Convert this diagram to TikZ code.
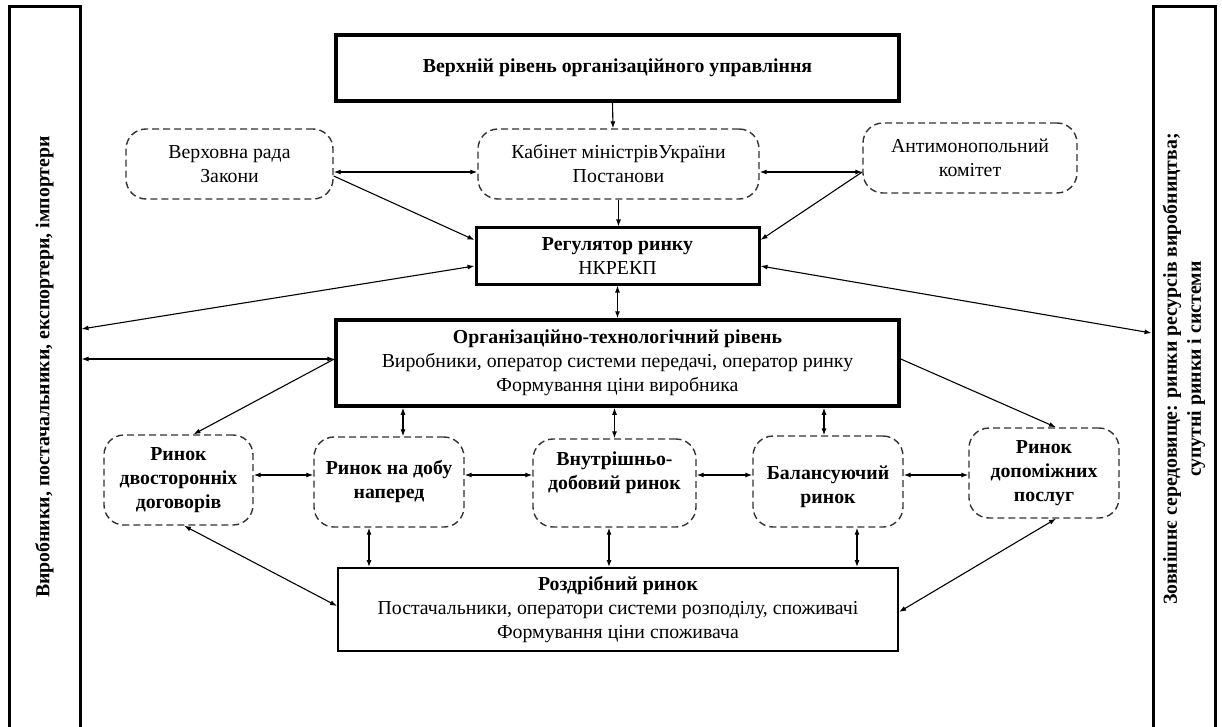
\documentclass[tikz,border=0pt]{standalone}
\usepackage{fontspec}
\setmainfont{Liberation Serif}
\usetikzlibrary{arrows.meta,calc}

\newcommand{\boxfont}{\fontsize{19.8}{24}\selectfont}
\tikzset{
  every node/.style={font=\boxfont},
  solidbox/.style={draw, rectangle, align=center, inner sep=0pt},
  heavybox/.style={solidbox, line width=3.5pt},
  midbox/.style={solidbox, line width=2pt},
  dashbox/.style={draw=black!80, rectangle, rounded corners=20pt, align=center,
    inner sep=0pt, line width=1.4pt, dash pattern=on 7pt off 4pt},
  marketbox/.style={dashbox, font=\boxfont\bfseries},
  barbox/.style={draw, rectangle, line width=3pt, inner sep=0pt},
  bartext/.style={rotate=90, align=center, font=\boxfont\bfseries},
  link/.style={line width=1.1pt, -{Latex[length=7pt,width=5pt]}},
  dlink/.style={line width=1.1pt, {Latex[length=7pt,width=5pt]}-{Latex[length=7pt,width=5pt]}},
}

\begin{document}
\begin{tikzpicture}[x=1pt, y=-1pt]
\useasboundingbox (0,0) rectangle (1222,727);
\clip (0,0) rectangle (1222,727);

% side bars
\node[barbox, minimum width=71, minimum height=740] (lbar) at (44.5,377) {};
\node[bartext] (ltext) at (44.5,367)
  {Виробники, постачальники, експортери, імпортери};
\node[barbox, minimum width=62, minimum height=740] (rbar) at (1184,377) {};
\node[bartext] (rtext) at (1184,369)
  {Зовнішнє середовище: ринки ресурсів виробництва;\\супутні ринки і системи};

% upper level
\node[heavybox, minimum width=563, minimum height=66] (top) at (617.5,68)
  {\bfseries Верхній рівень організаційного управління};
\node[dashbox, minimum width=207, minimum height=70] (vr) at (229.5,164)
  {Верховна рада\\Закони};
\node[dashbox, minimum width=281, minimum height=70] (kab) at (618.5,164)
  {Кабінет міністрівУкраїни\\Постанови};
\node[dashbox, minimum width=214, minimum height=70] (anti) at (970,158)
  {Антимонопольний\\комітет};
\node[heavybox, line width=3pt, minimum width=283, minimum height=56] (reg) at (617.5,256)
  {\bfseries Регулятор ринку\\НКРЕКП};

% organisational-technological level
\node[heavybox, minimum width=563, minimum height=86] (org) at (617.5,363)
  {\bfseries Організаційно-технологічний рівень\\
   Виробники, оператор системи передачі, оператор ринку\\
   Формування ціни виробника};

% market segments
\node[marketbox, minimum width=149, minimum height=90] (dvo) at (178.5,480)
  {Ринок\\двосторонніх\\договорів};
\node[marketbox, minimum width=150, minimum height=90] (dob) at (389,482)
  {Ринок на добу\\наперед\\[-18pt]\mbox{}};
\node[marketbox, minimum width=163, minimum height=88] (vnu) at (614.5,483)
  {Внутрішньо-\\добовий ринок\\\mbox{}};
\node[marketbox, minimum width=150, minimum height=91] (bal) at (828,481.5)
  {Балансуючий\\ринок\\[-30pt]\mbox{}};
\node[marketbox, minimum width=150, minimum height=90] (dop) at (1044,473)
  {Ринок\\допоміжних\\послуг};

% retail level
\node[midbox, minimum width=560, minimum height=83] (rozd) at (618,609.5)
  {\bfseries Роздрібний ринок\\
   Постачальники, оператори системи розподілу, споживачі\\
   Формування ціни споживача};

% links of the upper level
\draw[link] ([xshift=-5]top.south) -- ([xshift=-5.5]kab.north);
\draw[link] (kab.south) -- (kab.south |- reg.north);
\draw[dlink] ([yshift=-8]vr.east) -- ([yshift=-8]vr.east -| kab.west);
\draw[dlink] ([yshift=-14]anti.west) -- ([yshift=-14]anti.west -| kab.east);
\draw[link] ([yshift=-12]vr.east) -- ([yshift=16]reg.west);
\draw[link] ([yshift=-14]anti.west) -- ([yshift=16]reg.east);
\draw[dlink] ([yshift=-10]reg.west) -- ([yshift=-73]reg.west -| lbar.east);
\draw[dlink] ([yshift=-10]reg.east) -- ([yshift=-77]reg.east -| rbar.west);
\draw[dlink] (reg.south) -- (reg.south |- org.north);

% links of the organisational-technological level
\draw[dlink] ([yshift=4]org.west) -- ([yshift=4]org.west -| lbar.east);
\draw[link] ([yshift=4]org.west) -- ([xshift=15]dvo.north);
\draw[link] ([yshift=4]org.east) -- ([xshift=12]dop.north);
\draw[dlink] ([xshift=14]dob.north |- org.south) -- ([xshift=14]dob.north);
\draw[dlink] (vnu.north |- org.south) -- (vnu.north);
\draw[dlink] ([xshift=-4]bal.north |- org.south) -- ([xshift=-4]bal.north);

% links between the market segments
\draw[dlink] ([yshift=5]dvo.east) -- ([yshift=5]dvo.east -| dob.west);
\draw[dlink] ([yshift=7]dob.east) -- ([yshift=7]dob.east -| vnu.west);
\draw[dlink] ([yshift=8]vnu.east) -- ([yshift=8]vnu.east -| bal.west);
\draw[dlink] ([yshift=6.5]bal.east) -- ([yshift=6.5]bal.east -| dop.west);

% links to the retail level
\draw[dlink] ([xshift=5.5]dvo.south) -- ([yshift=3.5]rozd.west);
\draw[dlink] ([xshift=-20]dob.south) -- ([xshift=-20]dob.south |- rozd.north);
\draw[dlink] ([xshift=-5.5]vnu.south) -- ([xshift=-5.5]vnu.south |- rozd.north);
\draw[dlink] ([xshift=29]bal.south) -- ([xshift=29]bal.south |- rozd.north);
\draw[dlink] ([xshift=12]dop.south) -- ([yshift=-2.5]rozd.east);
\end{tikzpicture}
\end{document}
